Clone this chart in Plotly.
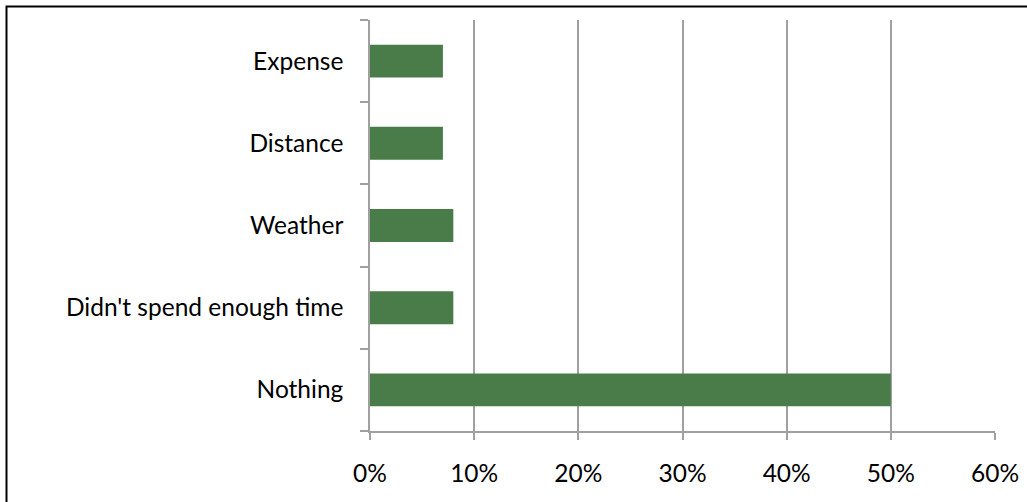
import plotly.graph_objects as go

categories = ["Nothing", "Didn't spend enough time", "Weather", "Distance", "Expense"]
values = [0.50, 0.08, 0.08, 0.07, 0.07]
x_ticks = [0, 0.1, 0.2, 0.3, 0.4, 0.5, 0.6]
x_tick_labels = ["0%", "10%", "20%", "30%", "40%", "50%", "60%"]

W, H = 1027, 502
L, R, T, B = 370, 32, 20, 71
pw, ph = W - L - R, H - T - B

def px_to_paper_x(px):
    return (px - L) / pw

def px_to_paper_y(py):
    return (H - B - py) / ph

fig = go.Figure(go.Bar(
    y=categories, x=values, orientation="h",
    marker=dict(color="#4A7C4A", line=dict(width=0)),
    width=0.4,
))

font = dict(family="Lato, 'Open Sans', sans-serif", size=24.5, color="#000000")

fig.update_layout(
    width=W, height=H,
    margin=dict(l=L, r=R, t=T, b=B, autoexpand=False),
    paper_bgcolor="white", plot_bgcolor="white",
    showlegend=False,
    font=font,
    bargap=0.6,
)
fig.update_xaxes(
    range=[0, 0.6], tickvals=x_ticks, ticktext=x_tick_labels,
    showgrid=True, gridcolor="#A0A0A0", gridwidth=1.5,
    showline=True, linecolor="#A0A0A0", linewidth=1.5,
    ticks="outside", ticklen=7, tickcolor="#A0A0A0", tickwidth=1.5,
    ticklabelstandoff=13, zeroline=False, fixedrange=True,
    automargin=False, tickfont=font,
)
fig.update_yaxes(
    categoryorder="array", categoryarray=categories,
    showgrid=False, showline=True, linecolor="#A0A0A0", linewidth=1.5,
    ticks="outside", ticklen=8, tickcolor="#A0A0A0", tickwidth=1.5,
    tickson="boundaries", ticklabelstandoff=20, fixedrange=True,
    automargin=False, tickfont=font,
)
bx0 = px_to_paper_x(6.5)
bx1 = px_to_paper_x(1040)
by0 = px_to_paper_y(520)
by1 = px_to_paper_y(6.5)
fig.add_shape(
    type="path", xref="paper", yref="paper",
    path=f"M {bx0},{by0} L {bx0},{by1} L {bx1},{by1}",
    line=dict(color="black", width=2), fillcolor="rgba(0,0,0,0)",
    layer="above",
)

fig.write_html(
    "out.html",
    config={"displayModeBar": False},
    post_script="document.body.style.margin='0';document.body.style.overflow='hidden';",
)
